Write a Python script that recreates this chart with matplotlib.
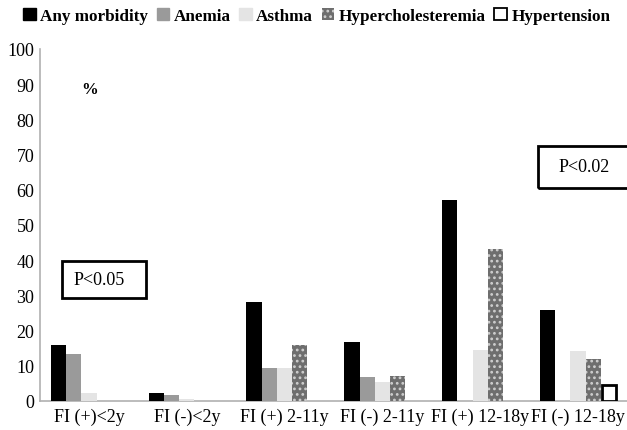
import numpy as np
import matplotlib.pyplot as plt
from matplotlib.patches import Rectangle, Patch

plt.rcParams['font.family'] = ['Liberation Serif', 'DejaVu Serif']
plt.rcParams['hatch.linewidth'] = 1.2

# data
groups = ['FI (+)<2y', 'FI (-)<2y', 'FI (+) 2-11y', 'FI (-) 2-11y', 'FI (+) 12-18y', 'FI (-) 12-18y']
any_morbidity = [16, 2.2, 28, 16.8, 57, 25.8]
anemia = [13.3, 1.8, 9.5, 6.9, 0, 0]
asthma = [2.2, 0.5, 9.4, 5.5, 14.4, 14.1]
hyperchol = [0, 0, 16, 7.1, 43.2, 11.9]
hypertension = [0, 0, 0, 0, 0, 4.6]

series = [any_morbidity, anemia, asthma, hyperchol, hypertension]
names = ['Any morbidity', 'Anemia', 'Asthma', 'Hypercholesteremia', 'Hypertension']
styles = [
    dict(color='black'),
    dict(color='#9a9a9a'),
    dict(color='#e4e4e4'),
    dict(facecolor='#6e6e6e', edgecolor='#cfcfcf', hatch='...', linewidth=0),
    dict(facecolor='white', edgecolor='black', linewidth=2),
]

fig = plt.figure(figsize=(6.27, 4.31), dpi=100)
ax = fig.add_axes([40/627, 1-402/431, 1-40/627, (402-50)/431])

x = np.arange(len(groups))
w = 0.156
for i, (vals, st) in enumerate(zip(series, styles)):
    vals = np.array(vals, dtype=float)
    pos = x + (i - 2) * w
    keep = vals > 0
    if i == 4:
        # black outline sits inside the bar
        ax.bar(pos[keep] + 0.001, vals[keep], w * 0.92, zorder=3, **st)
    else:
        ax.bar(pos[keep], vals[keep], w, zorder=3, **st)

ax.set_xlim(-0.5, 5.5)
ax.set_ylim(0, 100)
ax.set_yticks(range(0, 101, 10))
ax.set_xticks(x)
ax.set_xticklabels(groups)
ax.tick_params(length=0, labelsize=13)
ax.tick_params(axis='x', pad=5)
ax.tick_params(axis='y', pad=4)
for s in ['top', 'right']:
    ax.spines[s].set_visible(False)
for s in ['left', 'bottom']:
    ax.spines[s].set_color('#b0b0b0')
    ax.spines[s].set_linewidth(1.2)

ax.text(0.01, 88.5, '%', fontsize=12, fontweight='bold', ha='center', va='center')

ax.add_patch(Rectangle((-0.276, 29.3), 0.858, 10.5, fill=False, edgecolor='black',
                       linewidth=2, clip_on=False, zorder=4))
ax.text(0.105, 34.5, 'P<0.05', fontsize=13, ha='center', va='center')
ax.add_patch(Rectangle((4.59, 60.5), 1.2, 11.9, fill=False, edgecolor='black',
                       linewidth=2, clip_on=False, zorder=4))
ax.text(5.06, 66.5, 'P<0.02', fontsize=13, ha='center', va='center')

handles = [Patch(label=n, **st) for n, st in zip(names, styles)]
handles[4] = Patch(label=names[4], facecolor='white', edgecolor='black', linewidth=1.3)
fig.legend(handles=handles, loc='center', bbox_to_anchor=(0.505, 1-17/431), ncol=5,
           frameon=False, handlelength=0.75, handleheight=0.75, handletextpad=0.25,
           columnspacing=0.5, borderaxespad=0,
           prop=dict(family='Liberation Serif', weight='bold', size=12.3))

fig.savefig('out.png', dpi=100)
